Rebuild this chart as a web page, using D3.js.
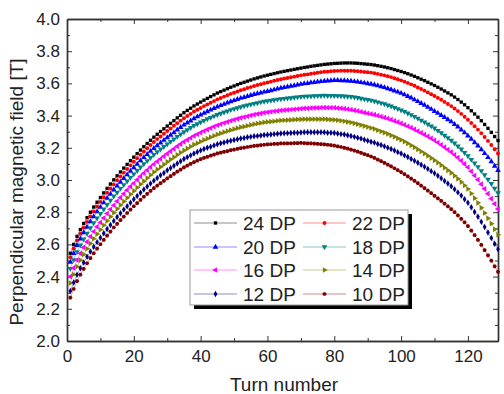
<!DOCTYPE html>
<html>
<head>
<meta charset="utf-8">
<script src="https://cdn.jsdelivr.net/npm/d3@7"></script>
<style>
  body { margin: 0; background: #fff; }
  text { font-family: "Liberation Sans", Arial, sans-serif; fill: #222; }
</style>
</head>
<body>
<svg id="chart" width="504" height="394"></svg>
<script>
// turn numbers along x
const turns = d3.range(1, 130);

const dp24 = [2.545,2.600,2.650,2.692,2.730,2.766,2.800,2.832,2.862,2.891,
  2.920,2.948,2.975,3.001,3.026,3.050,3.074,3.097,3.120,3.142,
  3.164,3.186,3.207,3.227,3.247,3.266,3.284,3.301,3.318,3.335,
  3.352,3.369,3.386,3.402,3.418,3.432,3.446,3.460,3.472,3.484,
  3.496,3.507,3.518,3.529,3.540,3.549,3.558,3.567,3.576,3.584,
  3.592,3.600,3.607,3.614,3.621,3.628,3.634,3.640,3.646,3.651,
  3.656,3.661,3.666,3.671,3.675,3.679,3.683,3.687,3.691,3.695,
  3.699,3.702,3.706,3.709,3.712,3.715,3.718,3.720,3.722,3.724,
  3.725,3.726,3.727,3.727,3.727,3.726,3.725,3.723,3.721,3.719,
  3.717,3.714,3.710,3.706,3.702,3.697,3.692,3.686,3.680,3.674,
  3.667,3.660,3.652,3.644,3.635,3.626,3.617,3.607,3.597,3.587,
  3.576,3.565,3.553,3.541,3.529,3.515,3.500,3.484,3.467,3.449,
  3.430,3.410,3.390,3.368,3.345,3.321,3.296,3.270,3.245];

const dp22 = [2.520,2.575,2.625,2.666,2.704,2.740,2.774,2.805,2.835,2.864,
  2.893,2.921,2.947,2.973,2.998,3.022,3.046,3.068,3.091,3.113,
  3.135,3.157,3.177,3.197,3.217,3.236,3.254,3.270,3.287,3.304,
  3.320,3.337,3.353,3.369,3.384,3.398,3.411,3.425,3.436,3.447,
  3.459,3.469,3.480,3.490,3.501,3.509,3.518,3.526,3.535,3.542,
  3.550,3.557,3.564,3.571,3.577,3.584,3.590,3.595,3.601,3.606,
  3.611,3.616,3.621,3.626,3.630,3.634,3.638,3.642,3.646,3.650,
  3.654,3.656,3.660,3.663,3.666,3.669,3.672,3.673,3.675,3.677,
  3.678,3.679,3.679,3.679,3.679,3.677,3.676,3.674,3.671,3.669,
  3.667,3.663,3.659,3.654,3.650,3.644,3.639,3.632,3.626,3.619,
  3.611,3.603,3.594,3.585,3.575,3.565,3.555,3.544,3.533,3.522,
  3.510,3.498,3.485,3.472,3.459,3.444,3.428,3.411,3.393,3.374,
  3.354,3.334,3.313,3.291,3.267,3.243,3.217,3.191,3.165];

const dp20 = [2.490,2.544,2.594,2.635,2.673,2.708,2.742,2.773,2.803,2.831,
  2.859,2.887,2.913,2.939,2.963,2.987,3.010,3.033,3.055,3.077,
  3.098,3.120,3.140,3.159,3.179,3.197,3.214,3.231,3.247,3.263,
  3.279,3.295,3.312,3.327,3.342,3.355,3.368,3.382,3.393,3.404,
  3.415,3.425,3.435,3.445,3.455,3.463,3.471,3.479,3.487,3.494,
  3.501,3.508,3.514,3.520,3.526,3.532,3.537,3.542,3.547,3.551,
  3.556,3.561,3.566,3.571,3.575,3.579,3.583,3.587,3.591,3.595,
  3.599,3.601,3.605,3.607,3.610,3.612,3.615,3.616,3.618,3.619,
  3.619,3.618,3.618,3.616,3.615,3.612,3.610,3.606,3.603,3.599,
  3.596,3.591,3.586,3.580,3.575,3.568,3.562,3.554,3.547,3.539,
  3.530,3.520,3.510,3.499,3.488,3.476,3.465,3.452,3.440,3.427,
  3.415,3.402,3.389,3.375,3.362,3.346,3.330,3.312,3.294,3.274,
  3.254,3.233,3.212,3.189,3.165,3.140,3.114,3.087,3.060];

const dp18 = [2.450,2.504,2.554,2.595,2.633,2.668,2.702,2.733,2.763,2.791,
  2.819,2.847,2.873,2.899,2.923,2.947,2.970,2.993,3.015,3.037,
  3.058,3.080,3.100,3.119,3.139,3.157,3.174,3.191,3.207,3.223,
  3.239,3.254,3.270,3.285,3.299,3.312,3.325,3.338,3.348,3.359,
  3.369,3.379,3.388,3.397,3.406,3.414,3.421,3.428,3.436,3.442,
  3.448,3.454,3.460,3.465,3.470,3.475,3.479,3.484,3.488,3.491,
  3.494,3.497,3.501,3.504,3.506,3.508,3.510,3.513,3.515,3.517,
  3.519,3.520,3.521,3.522,3.523,3.524,3.525,3.524,3.524,3.524,
  3.523,3.522,3.521,3.519,3.517,3.514,3.511,3.507,3.503,3.499,
  3.495,3.490,3.484,3.478,3.472,3.465,3.458,3.450,3.442,3.434,
  3.425,3.415,3.405,3.394,3.383,3.371,3.360,3.347,3.335,3.322,
  3.307,3.293,3.277,3.262,3.246,3.229,3.210,3.191,3.170,3.149,
  3.127,3.104,3.082,3.057,3.031,3.004,2.977,2.948,2.920];

const dp16 = [2.400,2.454,2.503,2.544,2.581,2.616,2.649,2.680,2.709,2.736,
  2.764,2.792,2.818,2.843,2.868,2.891,2.914,2.937,2.959,2.980,
  3.001,3.022,3.042,3.061,3.080,3.098,3.115,3.131,3.147,3.163,
  3.178,3.193,3.209,3.223,3.237,3.249,3.261,3.274,3.284,3.294,
  3.304,3.313,3.322,3.331,3.340,3.347,3.354,3.361,3.368,3.374,
  3.380,3.386,3.391,3.396,3.401,3.406,3.410,3.414,3.418,3.421,
  3.424,3.427,3.429,3.432,3.434,3.436,3.438,3.439,3.441,3.443,
  3.445,3.445,3.447,3.448,3.448,3.449,3.450,3.450,3.449,3.449,
  3.447,3.445,3.443,3.440,3.437,3.433,3.429,3.424,3.419,3.414,
  3.410,3.406,3.400,3.394,3.388,3.382,3.375,3.367,3.360,3.352,
  3.343,3.334,3.325,3.315,3.304,3.293,3.282,3.271,3.259,3.247,
  3.233,3.219,3.204,3.189,3.174,3.157,3.139,3.120,3.100,3.079,
  3.054,3.028,3.002,2.974,2.945,2.915,2.884,2.852,2.820];

const dp14 = [2.360,2.413,2.462,2.502,2.538,2.573,2.605,2.635,2.664,2.691,
  2.719,2.746,2.772,2.797,2.821,2.844,2.867,2.889,2.911,2.932,
  2.953,2.974,2.993,3.012,3.031,3.049,3.066,3.081,3.097,3.113,
  3.128,3.142,3.157,3.171,3.184,3.196,3.208,3.220,3.229,3.239,
  3.249,3.257,3.266,3.275,3.283,3.290,3.297,3.304,3.310,3.316,
  3.322,3.328,3.332,3.337,3.342,3.347,3.351,3.354,3.358,3.361,
  3.363,3.365,3.368,3.370,3.371,3.372,3.373,3.375,3.376,3.377,
  3.378,3.378,3.378,3.378,3.378,3.378,3.378,3.376,3.375,3.374,
  3.371,3.368,3.365,3.361,3.357,3.352,3.347,3.341,3.335,3.329,
  3.323,3.317,3.309,3.302,3.294,3.286,3.277,3.268,3.258,3.249,
  3.238,3.227,3.215,3.203,3.190,3.177,3.164,3.150,3.136,3.122,
  3.107,3.092,3.076,3.060,3.044,3.026,3.007,2.987,2.966,2.944,
  2.916,2.887,2.858,2.827,2.795,2.762,2.729,2.694,2.660];

const dp12 = [2.310,2.363,2.412,2.452,2.488,2.523,2.555,2.585,2.614,2.641,
  2.669,2.696,2.721,2.746,2.770,2.793,2.816,2.837,2.859,2.880,
  2.901,2.921,2.941,2.960,2.978,2.996,3.013,3.029,3.044,3.060,
  3.074,3.089,3.103,3.117,3.130,3.142,3.153,3.165,3.174,3.184,
  3.192,3.200,3.207,3.215,3.222,3.228,3.233,3.239,3.244,3.249,
  3.253,3.258,3.261,3.265,3.268,3.272,3.274,3.277,3.279,3.281,
  3.283,3.285,3.287,3.289,3.290,3.291,3.292,3.293,3.294,3.295,
  3.296,3.296,3.296,3.296,3.296,3.296,3.296,3.294,3.293,3.292,
  3.289,3.285,3.282,3.278,3.273,3.268,3.263,3.257,3.250,3.244,
  3.238,3.232,3.224,3.217,3.209,3.201,3.192,3.183,3.173,3.164,
  3.153,3.143,3.131,3.120,3.107,3.095,3.082,3.069,3.055,3.042,
  3.026,3.011,2.994,2.978,2.961,2.943,2.923,2.903,2.881,2.859,
  2.831,2.801,2.772,2.740,2.708,2.674,2.640,2.604,2.570];

const dp10 = [2.270,2.323,2.372,2.412,2.448,2.483,2.515,2.545,2.574,2.601,
  2.628,2.655,2.680,2.705,2.728,2.751,2.773,2.795,2.816,2.837,
  2.857,2.877,2.896,2.914,2.932,2.949,2.965,2.980,2.995,3.010,
  3.024,3.038,3.052,3.065,3.078,3.089,3.100,3.111,3.120,3.129,
  3.137,3.144,3.151,3.158,3.165,3.170,3.175,3.180,3.185,3.189,
  3.193,3.198,3.201,3.205,3.208,3.212,3.214,3.217,3.219,3.221,
  3.222,3.224,3.225,3.227,3.227,3.228,3.228,3.229,3.229,3.230,
  3.229,3.228,3.227,3.226,3.224,3.223,3.221,3.219,3.216,3.214,
  3.209,3.205,3.200,3.195,3.189,3.183,3.176,3.169,3.161,3.154,
  3.146,3.137,3.127,3.117,3.107,3.096,3.085,3.073,3.061,3.049,
  3.036,3.023,3.009,2.995,2.980,2.965,2.950,2.934,2.918,2.902,
  2.886,2.870,2.853,2.836,2.819,2.800,2.780,2.759,2.737,2.714,
  2.686,2.657,2.628,2.597,2.565,2.532,2.499,2.464,2.430];

const seriesNames = ["24 DP", "22 DP", "20 DP", "18 DP", "16 DP", "14 DP", "12 DP", "10 DP"];
const seriesValues = [dp24, dp22, dp20, dp18, dp16, dp14, dp12, dp10];
const seriesColors = ["#000000", "#ff0000", "#0000ff", "#008080", "#ff00ff", "#808000", "#000080", "#800000"];

const xMajor = [0, 20, 40, 60, 80, 100, 120];
const xMinor = [10, 30, 50, 70, 90, 110];
const yMajor = [2.0, 2.2, 2.4, 2.6, 2.8, 3.0, 3.2, 3.4, 3.6, 3.8, 4.0];
const yMinor = [2.1, 2.3, 2.5, 2.7, 2.9, 3.1, 3.3, 3.5, 3.7, 3.9];

const plotLeft = 67, plotRight = 498, plotTop = 19, plotBottom = 341;

const x = d3.scaleLinear().domain([0, 129]).range([plotLeft, plotRight]);
const y = d3.scaleLinear().domain([2, 4]).range([plotBottom, plotTop]);

const svg = d3.select("#chart");

// hexagon, used for the last series like Origin does
const symbolHexagon = {
    draw(ctx, size) {
        const r = Math.sqrt(size / (1.5 * Math.sqrt(3)));
        for (let i = 0; i < 6; i++) {
            const a = Math.PI / 3 * i;
            if (i === 0) ctx.moveTo(r * Math.cos(a), r * Math.sin(a));
            else ctx.lineTo(r * Math.cos(a), r * Math.sin(a));
        }
        ctx.closePath();
    }
};
const markers = [
    {type: d3.symbolSquare, rot: 0, size: 11},
    {type: d3.symbolCircle, rot: 0, size: 12},
    {type: d3.symbolTriangle, rot: 0, size: 14},
    {type: d3.symbolTriangle, rot: 180, size: 14},
    {type: d3.symbolTriangle, rot: -90, size: 14},
    {type: d3.symbolTriangle, rot: 90, size: 14},
    {type: d3.symbolDiamond, rot: 0, size: 12},
    {type: symbolHexagon, rot: 0, size: 12}
];

// frame and ticks
const drawAxis = (axis, tx, ty, cls) => {
    svg.append("g")
    .attr("class", cls)
    .attr("transform", `translate(${tx},${ty})`)
    .call(axis)
    .call(g => g.selectAll("path.domain").attr("stroke", "#333").attr("stroke-width", 1.4))
    .call(g => g.selectAll(".tick line").attr("stroke", "#333").attr("stroke-width", 1))
    .call(g => g.selectAll("text").attr("font-size", 17).attr("fill", "#222"));
};

drawAxis(d3.axisBottom(x).tickValues(xMajor).tickSizeInner(-5).tickSizeOuter(0).tickPadding(9).tickFormat(d3.format("d")), 0, plotBottom, "x-major");
drawAxis(d3.axisBottom(x).tickValues(xMinor).tickSizeInner(-3).tickSizeOuter(0).tickFormat(""), 0, plotBottom, "x-minor");
drawAxis(d3.axisTop(x).tickValues(xMajor).tickSizeInner(-5).tickSizeOuter(0).tickFormat(""), 0, plotTop, "x-top");
drawAxis(d3.axisTop(x).tickValues(xMinor).tickSizeInner(-3).tickSizeOuter(0).tickFormat(""), 0, plotTop, "x-top-minor");
drawAxis(d3.axisLeft(y).tickValues(yMajor).tickSizeInner(-5).tickSizeOuter(0).tickPadding(7).tickFormat(d3.format(".1f")), plotLeft, 0, "y-major");
drawAxis(d3.axisLeft(y).tickValues(yMinor).tickSizeInner(-3).tickSizeOuter(0).tickFormat(""), plotLeft, 0, "y-minor");
drawAxis(d3.axisRight(y).tickValues(yMajor).tickSizeInner(-5).tickSizeOuter(0).tickFormat(""), plotRight, 0, "y-right");
drawAxis(d3.axisRight(y).tickValues(yMinor).tickSizeInner(-3).tickSizeOuter(0).tickFormat(""), plotRight, 0, "y-right-minor");

// axis titles
svg.append("text")
.attr("x", 284)
.attr("y", 391)
.attr("text-anchor", "middle")
.attr("font-size", 19)
.text("Turn number");

svg.append("text")
.attr("transform", "translate(23,192) rotate(-90)")
.attr("text-anchor", "middle")
.attr("font-size", 19)
.text("Perpendicular magnetic field [T]");

// series
const line = d3.line()
.x((d, i) => x(turns[i]))
.y(d => y(d));

const plot = svg.append("g").attr("id", "series");

seriesValues.forEach((vals, s) => {
    const g = plot.append("g");
    g.append("path")
    .attr("d", line(vals))
    .attr("fill", "none")
    .attr("stroke", seriesColors[s])
    .attr("stroke-opacity", 0.45)
    .attr("stroke-width", 0.8);

    const sym = d3.symbol().type(markers[s].type).size(markers[s].size);
    g.selectAll("path.pt")
    .data(vals)
    .join("path")
    .attr("class", "pt")
    .attr("d", sym)
    .attr("transform", (d, i) => `translate(${x(turns[i])},${y(d)}) rotate(${markers[s].rot})`)
    .attr("fill", seriesColors[s]);
});

// legend
const legX = 190, legY = 210, legW = 218, legH = 95;
const legend = svg.append("g").attr("id", "legend");

legend.append("rect")
.attr("x", legX + 4).attr("y", legY + 4)
.attr("width", legW).attr("height", legH)
.attr("fill", "#000");

legend.append("rect")
.attr("x", legX).attr("y", legY)
.attr("width", legW).attr("height", legH)
.attr("fill", "#fff")
.attr("stroke", "#999")
.attr("stroke-width", 1);

const rowY = [223, 247, 270, 294];
const colX = [194, 303];

seriesNames.forEach((name, s) => {
    const cx = colX[s % 2];
    const cy = rowY[Math.floor(s / 2)];
    legend.append("line")
    .attr("x1", cx).attr("x2", cx + 43)
    .attr("y1", cy).attr("y2", cy)
    .attr("stroke", seriesColors[s])
    .attr("stroke-opacity", 0.45)
    .attr("stroke-width", 1);

    legend.append("path")
    .attr("d", d3.symbol().type(markers[s].type).size(markers[s].size)())
    .attr("transform", `translate(${cx + 21.5},${cy}) rotate(${markers[s].rot})`)
    .attr("fill", seriesColors[s]);

    legend.append("text")
    .attr("x", cx + 49)
    .attr("y", cy)
    .attr("dy", "0.35em")
    .attr("font-size", 19)
    .text(name);
});
</script>
</body>
</html>
